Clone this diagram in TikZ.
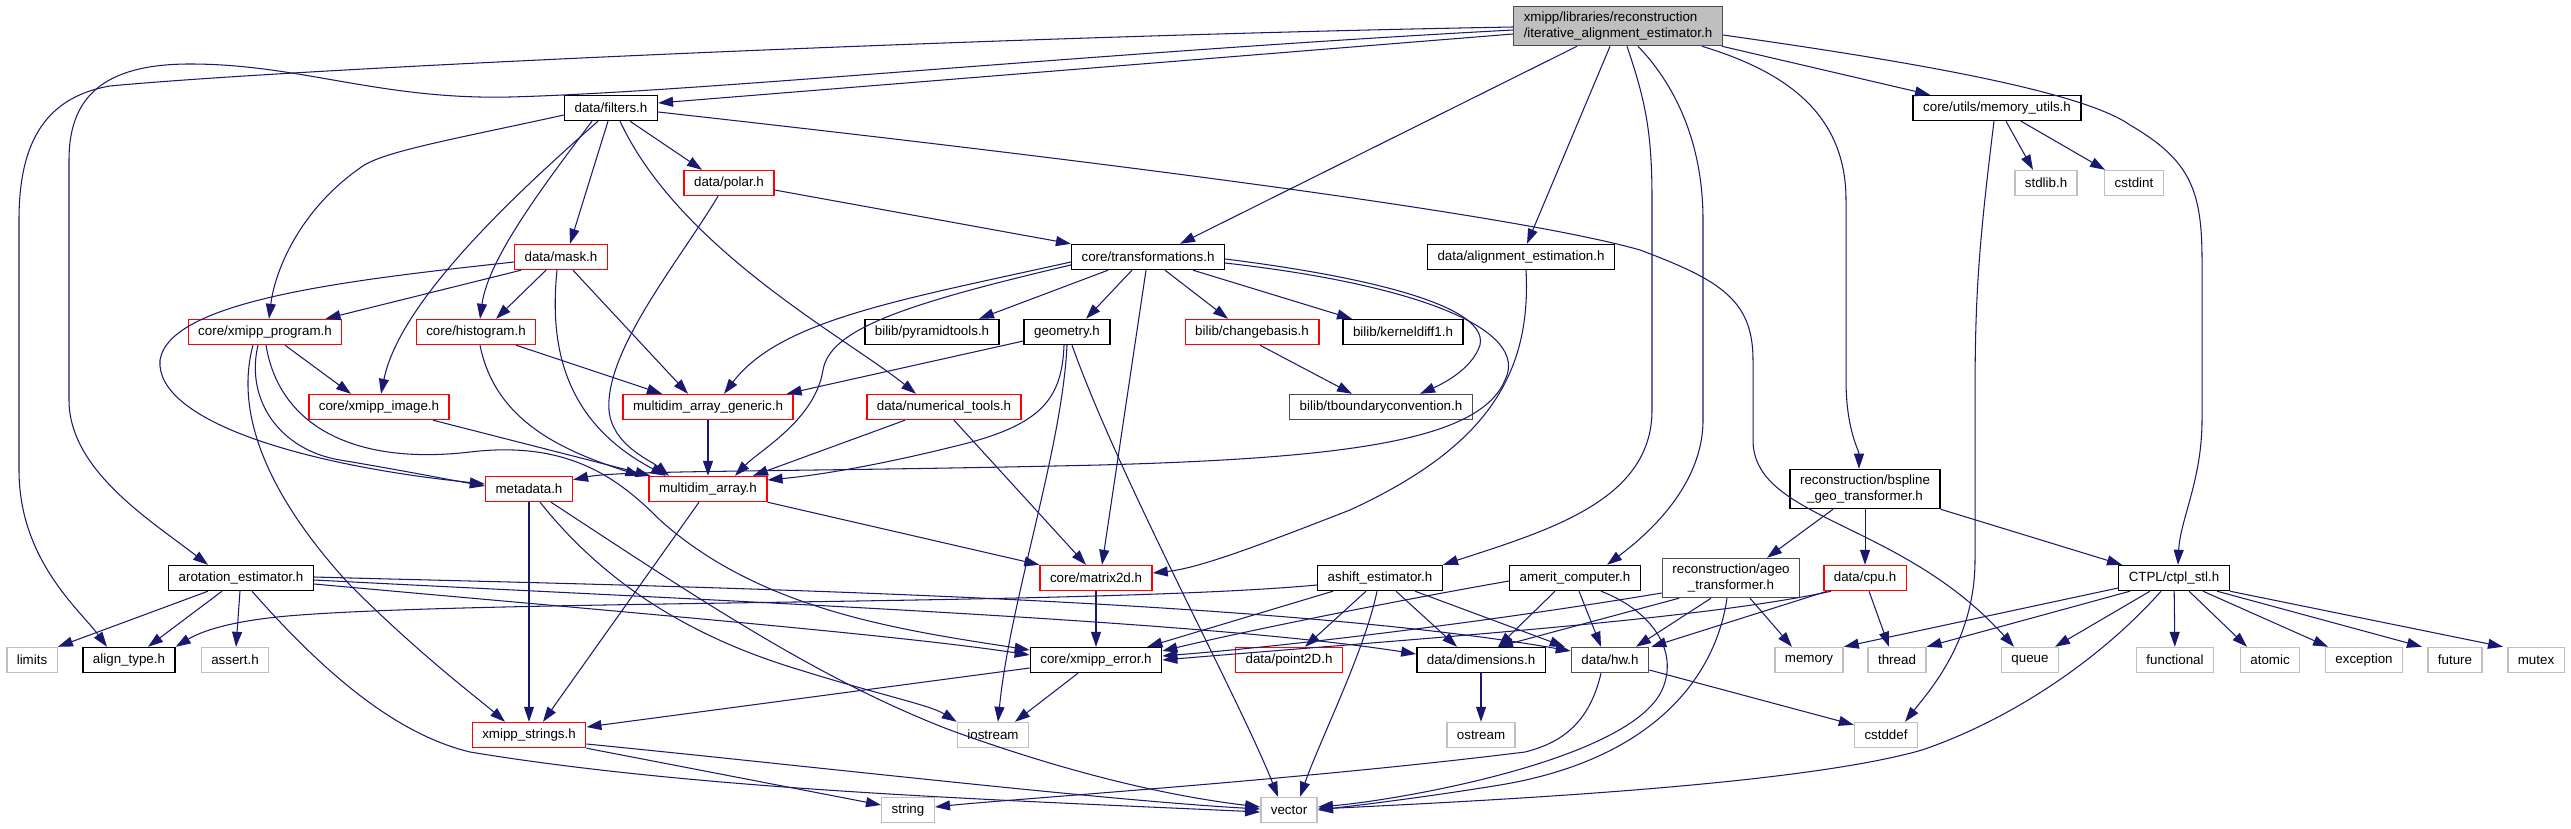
\documentclass[tikz,border=0pt]{standalone}
\usepackage{fontspec}
\setmainfont{Liberation Sans}
\usetikzlibrary{arrows.meta,calc}
\definecolor{edgeblue}{HTML}{191970}

\begin{document}
\begin{tikzpicture}[x=0.02cm, y=-0.02cm,
    hdr/.style={draw=black, fill=white, line width=0.8pt, font=\fontsize{7.6}{9.5}\selectfont, inner xsep=0.2cm, inner ysep=0.1cm, minimum height=0.5cm},
    hdrred/.style={hdr, draw=red},
    hdrgray/.style={hdr, draw=black!70},
    sys/.style={hdr, draw=black!25},
    rootfile/.style={hdr, draw=black!70, fill=black!25, align=left},
    inc/.style={edgeblue, line width=0.6pt, -{Triangle[length=0.3cm, width=0.2cm]}}]
    \useasboundingbox (0,0) rectangle (2571,828);

    \node (root) [rootfile] at (1618,26) {xmipp/libraries/reconstruction\\/iterative\_alignment\_estimator.h};
    \node (filters) [hdr] at (611,108) {data/filters.h};
    \node (memutil) [hdr] at (1997,108) {core/utils/memory\_utils.h};
    \node (polar) [hdrred] at (729,183) {data/polar.h};
    \node (stdlib) [sys] at (2046,183) {stdlib.h};
    \node (cstdint) [sys] at (2134,183) {cstdint};
    \node (mask) [hdrred] at (561,257) {data/mask.h};
    \node (trans) [hdr] at (1148,257) {core/transformations.h};
    \node (align) [hdr] at (1521,257) {data/alignment\_estimation.h};
    \node (xprog) [hdrred] at (265,332) {core/xmipp\_program.h};
    \node (hist) [hdrred] at (476,332) {core/histogram.h};
    \node (pyr) [hdr] at (932,332) {bilib/pyramidtools.h};
    \node (geom) [hdr] at (1067,332) {geometry.h};
    \node (chb) [hdrred] at (1252,332) {bilib/changebasis.h};
    \node (kd) [hdr] at (1403,332) {bilib/kerneldiff1.h};
    \node (ximage) [hdrred] at (379,407) {core/xmipp\_image.h};
    \node (mag) [hdrred] at (708,407) {multidim\_array\_generic.h};
    \node (numt) [hdrred] at (944,407) {data/numerical\_tools.h};
    \node (tbc) [hdrgray] at (1381,407) {bilib/tboundaryconvention.h};
    \node (meta) [hdrred] at (529,489) {metadata.h};
    \node (mda) [hdrred] at (708,489) {multidim\_array.h};
    \node (bspl) [hdr, align=center] at (1865,489) {reconstruction/bspline\\\_geo\_transformer.h};
    \node (arot) [hdr] at (241,578) {arotation\_estimator.h};
    \node (m2d) [hdrred] at (1096,578) {core/matrix2d.h};
    \node (ashift) [hdr] at (1380,578) {ashift\_estimator.h};
    \node (amerit) [hdr] at (1575,578) {amerit\_computer.h};
    \node (ageo) [hdrgray, align=center] at (1731,578) {reconstruction/ageo\\\_transformer.h};
    \node (cpu) [hdrred] at (1865,578) {data/cpu.h};
    \node (ctpl) [hdr] at (2174,578) {CTPL/ctpl\_stl.h};
    \node (limits) [sys] at (32,660) {limits};
    \node (atype) [hdr] at (129,660) {align\_type.h};
    \node (assert) [sys] at (235,660) {assert.h};
    \node (xerr) [hdr] at (1096,660) {core/xmipp\_error.h};
    \node (p2d) [hdrred] at (1289,660) {data/point2D.h};
    \node (dims) [hdr] at (1481,660) {data/dimensions.h};
    \node (hw) [hdrgray] at (1610,660) {data/hw.h};
    \node (memory) [sys] at (1809,660) {memory};
    \node (thread) [sys] at (1897,660) {thread};
    \node (queue) [sys] at (2030,660) {queue};
    \node (functional) [sys] at (2175,660) {functional};
    \node (atomic) [sys] at (2270,660) {atomic};
    \node (exception) [sys] at (2364,660) {exception};
    \node (future) [sys] at (2455,660) {future};
    \node (mutex) [sys] at (2536,660) {mutex};
    \node (xstr) [hdrred] at (529,735) {xmipp\_strings.h};
    \node (iostream) [sys] at (993,735) {iostream};
    \node (ostream) [sys] at (1481,735) {ostream};
    \node (cstddef) [sys] at (1886,735) {cstddef};
    \node (string) [sys] at (908,810) {string};
    \node (vector) [sys] at (1289,810) {vector};

    \draw[inc] ($(root.west)+(0,8)$) -- ($(filters.east)+(0,-5)$);
    \draw[inc] ($(root.west)+(0,1)$) .. controls (1000,36) and (300,68) .. (110,86) .. controls (40,98) and (19,150) .. (19,220) -- (19,470) .. controls (19,560) and (80,610) .. ($(atype.north)+(-22,0)$);
    \draw[inc] ($(root.west)+(0,4)$) .. controls (1100,52) and (700,92) .. (510,97) .. controls (380,100) and (300,64) .. (190,64) .. controls (100,64) and (69,100) .. (69,160) -- (69,400) .. controls (69,470) and (150,520) .. ($(arot.north)+(-33,0)$);
    \draw[inc] ($(root.south)+(-41,0)$) -- ($(trans.north)+(32,0)$);
    \draw[inc] ($(root.south)+(-8,0)$) -- ($(align.north)+(6,0)$);
    \draw[inc] ($(root.south)+(9,0)$) .. controls (1645,100) and (1652,130) .. (1652,200) -- (1652,410) .. controls (1652,500) and (1550,530) .. (ashift.north east);
    \draw[inc] ($(root.south)+(20,0)$) .. controls (1680,90) and (1703,150) .. (1703,220) -- (1703,420) .. controls (1703,490) and (1640,540) .. ($(amerit.north)+(32,0)$);
    \draw[inc] ($(root.south east)+(-21,0)$) .. controls (1780,70) and (1846,110) .. (1846,200) -- (1846,380) .. controls (1846,430) and (1859,450) .. ($(bspl.north)+(-6,0)$);
    \draw[inc] ($(root.south east)+(-1,0)$) -- ($(memutil.north)+(-67,0)$);
    \draw[inc] ($(root.east)+(0,9)$) .. controls (1900,60) and (2080,90) .. (2130,125) .. controls (2190,160) and (2202,190) .. (2202,260) -- (2202,420) .. controls (2202,480) and (2180,520) .. ($(ctpl.north)+(4,0)$);

    \draw[inc] ($(filters.south)+(19,0)$) -- ($(polar.north)+(-27,0)$);
    \draw[inc] ($(filters.south)+(-3,0)$) -- ($(mask.north)+(9,0)$);
    \draw[inc] ($(filters.west)+(0,7)$) .. controls (450,140) and (380,152) .. (360,168) .. controls (300,210) and (275,270) .. ($(xprog.north)+(4,0)$);
    \draw[inc] ($(filters.south)+(-13,0)$) .. controls (520,190) and (400,300) .. ($(ximage.north)+(2,0)$);
    \draw[inc] ($(filters.south)+(-19,0)$) .. controls (540,190) and (488,260) .. ($(hist.north)+(4,0)$);
    \draw[inc] ($(filters.south)+(9,0)$) .. controls (680,250) and (850,340) .. ($(numt.north)+(-28,0)$);
    \draw[inc] ($(filters.east)+(0,4)$) .. controls (1000,150) and (1500,210) .. (1640,250) .. controls (1720,280) and (1753,300) .. (1753,360) -- (1753,440) .. controls (1753,520) and (1900,520) .. ($(queue.north)+(-16,0)$);

    \draw[inc] ($(polar.east)+(0,7)$) -- (trans.north west);
    \draw[inc] ($(polar.south)+(-11,0)$) .. controls (680,260) and (605,350) .. (609,410) .. controls (612,445) and (650,460) .. ($(mda.north)+(-39,0)$);

    \draw[inc] ($(mask.south)+(-40,0)$) -- ($(xprog.north east)+(-17,0)$);
    \draw[inc] ($(mask.south)+(-15,0)$) -- ($(hist.north)+(20,0)$);
    \draw[inc] ($(mask.south)+(12,0)$) -- ($(mag.north)+(-20,0)$);
    \draw[inc] ($(mask.south)+(-4,0)$) .. controls (550,340) and (560,420) .. ($(mda.north)+(-42,0)$);
    \draw[inc] ($(mask.west)+(0,5)$) .. controls (350,280) and (170,300) .. (160,360) .. controls (155,420) and (300,465) .. ($(meta.west)+(0,-5)$);

    \draw[inc] ($(xprog.south)+(20,0)$) -- ($(ximage.north)+(-28,0)$);
    \draw[inc] ($(xprog.south)+(-7,0)$) .. controls (245,400) and (280,450) .. (340,460) .. controls (400,470) and (440,478) .. ($(meta.west)+(0,-3)$);
    \draw[inc] ($(xprog.south)+(-12,0)$) .. controls (230,430) and (290,520) .. (350,585) .. controls (420,655) and (480,700) .. ($(xstr.north)+(-24,0)$);
    \draw[inc] ($(xprog.south)+(1,0)$) .. controls (280,430) and (360,465) .. (470,452) .. controls (570,440) and (620,480) .. (660,520) .. controls (760,610) and (900,630) .. ($(xerr.west)+(0,-10)$);

    \draw[inc] ($(hist.south)+(40,0)$) -- ($(mag.north)+(-46,0)$);
    \draw[inc] ($(hist.south)+(4,0)$) .. controls (495,420) and (560,450) .. ($(mda.north west)+(-8,0)$);
    \draw[inc] ($(ximage.south)+(54,0)$) -- ($(mda.north west)+(2,0)$);
    \draw[inc] (mag) -- (mda);

    \draw[inc] (meta) -- (xstr);
    \draw[inc] ($(meta.south)+(11,0)$) .. controls (610,590) and (700,640) .. (800,670) .. controls (880,695) and (930,705) .. (iostream.north west);
    \draw[inc] ($(meta.south)+(22,0)$) .. controls (700,600) and (820,680) .. (950,730) .. controls (1060,770) and (1160,795) .. ($(vector.west)+(0,-3)$);
    \draw[inc] ($(mda.south)+(-9,0)$) -- ($(xstr.north)+(14,0)$);
    \draw[inc] (mda.south east) -- (m2d.north west);

    \draw[inc] ($(trans.south)+(-40,0)$) -- ($(pyr.north)+(47,0)$);
    \draw[inc] ($(trans.south)+(-16,0)$) -- ($(geom.north)+(19,0)$);
    \draw[inc] ($(trans.south)+(-2,0)$) -- ($(m2d.north)+(6,0)$);
    \draw[inc] ($(trans.south)+(17,0)$) -- ($(chb.north)+(-24,0)$);
    \draw[inc] ($(trans.south)+(45,0)$) -- ($(kd.north)+(-51,0)$);
    \draw[inc] ($(trans.east)+(0,2)$) .. controls (1330,272) and (1490,300) .. (1480,345) .. controls (1472,370) and (1440,385) .. ($(tbc.north)+(39,0)$);
    \draw[inc] ($(trans.east)+(0,6)$) .. controls (1420,285) and (1530,330) .. (1505,380) .. controls (1480,440) and (1350,458) .. (1100,465) .. controls (800,472) and (620,470) .. ($(meta.north east)+(0,4)$);
    \draw[inc] ($(trans.west)+(0,5)$) .. controls (900,300) and (780,320) .. ($(mag.north)+(16,0)$);
    \draw[inc] ($(trans.west)+(0,8)$) .. controls (900,305) and (830,330) .. (823,370) .. controls (815,420) and (760,450) .. ($(mda.north)+(27,0)$);

    \draw[inc] ($(geom.west)+(0,9)$) -- ($(mag.north east)+(-7,0)$);
    \draw[inc] ($(geom.south)+(-3,0)$) .. controls (1062,400) and (1040,425) .. (960,445) .. controls (880,465) and (820,475) .. ($(mda.east)+(0,-9)$);
    \draw[inc] (geom.south) .. controls (1062,450) and (1010,600) .. ($(iostream.north)+(5,0)$);
    \draw[inc] ($(geom.south)+(5,0)$) .. controls (1120,480) and (1240,700) .. ($(vector.north)+(-11,0)$);
    \draw[inc] ($(numt.south)+(-39,0)$) -- ($(mda.north)+(45,0)$);
    \draw[inc] ($(numt.south)+(10,0)$) -- ($(m2d.north)+(-10,0)$);
    \draw[inc] ($(chb.south)+(8,0)$) -- ($(tbc.north)+(-29,0)$);
    \draw[inc] ($(align.south)+(5,0)$) .. controls (1532,380) and (1480,450) .. (1350,510) .. controls (1260,545) and (1200,568) .. ($(m2d.east)+(0,-5)$);
    \draw[inc] (m2d) -- (xerr);

    \draw[inc] ($(memutil.south)+(9,0)$) -- ($(stdlib.north)+(-13,0)$);
    \draw[inc] ($(memutil.south)+(24,0)$) -- ($(cstdint.north)+(-29,0)$);
    \draw[inc] ($(memutil.south)+(-3,0)$) .. controls (1978,250) and (1975,300) .. (1975,400) -- (1975,560) .. controls (1975,640) and (1930,690) .. ($(cstddef.north)+(19,0)$);
    \draw[inc] ($(bspl.south)+(-32,0)$) -- ($(ageo.north)+(36,0)$);
    \draw[inc] (bspl) -- (cpu);
    \draw[inc] (bspl.south east) -- ($(ctpl.north west)+(4,0)$);

    \draw[inc] ($(arot.south)+(-33,0)$) -- (limits.north east);
    \draw[inc] ($(arot.south)+(-19,0)$) -- ($(atype.north)+(19,0)$);
    \draw[inc] ($(arot.south)+(-1,0)$) -- ($(assert.north)+(1,0)$);
    \draw[inc] ($(arot.south)+(11,0)$) .. controls (330,680) and (400,735) .. (470,752) .. controls (700,790) and (1000,800) .. ($(vector.west)+(0,2)$);
    \draw[inc] ($(arot.east)+(0,-1)$) .. controls (600,585) and (1250,595) .. ($(hw.west)+(0,-9)$);
    \draw[inc] ($(arot.east)+(0,2)$) .. controls (700,600) and (1200,620) .. ($(dims.west)+(0,-6)$);
    \draw[inc] ($(arot.east)+(0,6)$) .. controls (600,610) and (900,635) .. ($(xerr.west)+(0,-5)$);

    \draw[inc] ($(ashift.west)+(0,7)$) .. controls (1100,605) and (500,600) .. (300,615) .. controls (230,620) and (200,632) .. (atype.north east);
    \draw[inc] ($(ashift.south)+(-47,0)$) -- ($(xerr.north east)+(-15,0)$);
    \draw[inc] ($(ashift.south)+(-14,0)$) -- ($(p2d.north)+(16,0)$);
    \draw[inc] ($(ashift.south)+(-3,0)$) .. controls (1365,650) and (1320,740) .. ($(vector.north)+(11,0)$);
    \draw[inc] ($(ashift.south)+(16,0)$) -- ($(dims.north)+(-24,0)$);
    \draw[inc] ($(ashift.south)+(35,0)$) -- ($(hw.north west)+(-6,0)$);

    \draw[inc] ($(amerit.west)+(0,3)$) .. controls (1400,600) and (1250,630) .. ($(xerr.east)+(0,-9)$);
    \draw[inc] ($(amerit.south)+(-20,0)$) -- ($(dims.north)+(17,0)$);
    \draw[inc] ($(amerit.south)+(4,0)$) -- ($(hw.north)+(-9,0)$);
    \draw[inc] ($(amerit.south)+(26,0)$) .. controls (1650,610) and (1680,650) .. (1662,690) .. controls (1630,760) and (1400,800) .. ($(vector.east)+(0,-3)$);

    \draw[inc] ($(ageo.west)+(0,15)$) .. controls (1500,620) and (1300,645) .. ($(xerr.east)+(0,-4)$);
    \draw[inc] ($(ageo.south)+(-52,0)$) -- ($(dims.north)+(17,0)$);
    \draw[inc] ($(ageo.south)+(-20,0)$) -- ($(hw.north)+(26,0)$);
    \draw[inc] ($(ageo.south)+(19,0)$) -- ($(memory.north)+(-17,0)$);
    \draw[inc] ($(ageo.south)+(-4,0)$) .. controls (1715,680) and (1650,760) .. (1500,785) .. controls (1420,798) and (1360,805) .. (vector.east);

    \draw[inc] ($(cpu.south west)+(8,0)$) .. controls (1700,620) and (1400,640) .. (xerr.east);
    \draw[inc] ($(cpu.south west)+(4,0)$) -- ($(hw.north east)+(2,0)$);
    \draw[inc] ($(cpu.south)+(4,0)$) -- ($(thread.north)+(-8,0)$);

    \draw[inc] ($(ctpl.west)+(0,10)$) -- (memory.north east);
    \draw[inc] ($(ctpl.south)+(-44,0)$) -- (thread.north east);
    \draw[inc] ($(ctpl.south)+(-24,0)$) -- ($(queue.north)+(25,0)$);
    \draw[inc] (ctpl) -- (functional);
    \draw[inc] ($(ctpl.south)+(15,0)$) -- ($(atomic.north)+(-23,0)$);
    \draw[inc] ($(ctpl.south)+(29,0)$) -- ($(exception.north)+(-36,0)$);
    \draw[inc] ($(ctpl.south)+(43,0)$) -- ($(future.north)+(-33,0)$);
    \draw[inc] (ctpl.south east) -- ($(mutex.north)+(-33,0)$);
    \draw[inc] ($(ctpl.south)+(-13,0)$) .. controls (2100,660) and (2010,720) .. (1922,750) .. controls (1800,785) and (1500,800) .. ($(vector.east)+(0,-1)$);

    \draw[inc] ($(hw.south)+(-9,0)$) .. controls (1590,720) and (1565,742) .. (1525,752) .. controls (1300,780) and (1000,800) .. ($(string.east)+(0,-3)$);
    \draw[inc] ($(hw.east)+(0,10)$) -- ($(cstddef.north west)+(0,3)$);
    \draw[inc] (dims) -- (ostream);
    \draw[inc] ($(xerr.south)+(-18,0)$) -- ($(iostream.north)+(22,0)$);
    \draw[inc] ($(xerr.west)+(0,8)$) -- ($(xstr.east)+(0,-8)$);
    \draw[inc] (xstr.south east) -- ($(string.west)+(0,-5)$);
    \draw[inc] ($(xstr.east)+(0,9)$) .. controls (800,765) and (1100,800) .. ($(vector.west)+(0,-1)$);
\end{tikzpicture}
\end{document}
